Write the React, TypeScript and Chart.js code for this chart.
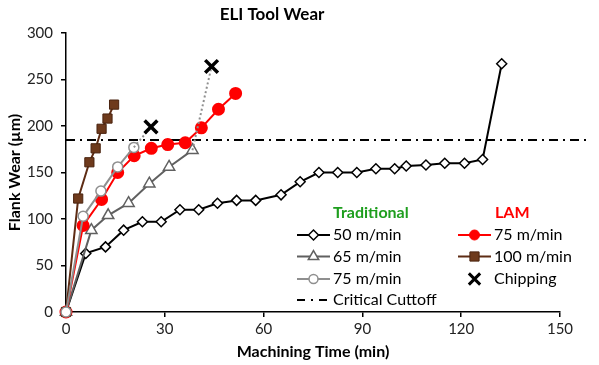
import React, { useEffect, useRef } from "react";
import { Chart, registerables } from "chart.js";
import { drawPoint } from "chart.js/helpers";

Chart.register(...registerables);

const FONT = "Lato, 'Open Sans', sans-serif";

// Traditional machining, 50 m/min
const trad50Time = [0, 6, 12, 17.5, 23.2, 28.9, 34.6, 40.3, 46, 51.8, 57.6, 65.3, 71.1, 76.8, 82.5, 88.3, 94.1, 99.8, 103.3, 109.3, 115, 121, 126.5, 132.3];
const trad50Wear = [0, 63, 70, 88, 97, 97, 110, 110, 117, 120, 120, 126, 140, 150, 150, 150, 154, 154, 157, 158, 160, 160, 164, 267];

// Traditional machining, 65 m/min
const trad65Time = [0, 7.7, 12.8, 19, 25.3, 31.3, 38.4];
const trad65Wear = [0, 88, 104, 117, 138, 156, 174];

// Traditional machining, 75 m/min
const trad75Time = [0, 5.2, 10.6, 15.7, 20.6];
const trad75Wear = [0, 103, 130, 156, 177];

// LAM, 75 m/min
const lam75Time = [0, 5.2, 10.8, 15.7, 20.7, 25.9, 30.9, 36.2, 41.1, 46.3, 51.5];
const lam75Wear = [0, 93, 121, 150, 168, 176, 180, 182, 198, 218, 235];

// LAM, 100 m/min
const lam100Time = [0, 3.7, 7.1, 9, 10.8, 12.6, 14.6];
const lam100Wear = [0, 122, 161, 176, 197, 208, 223];

// Chipping events (traditional 75 m/min and 65 m/min)
const chipTime = [25.8, 44.2];
const chipWear = [199, 264];

// Critical flank wear cutoff
const cutoffWear = 185;
const cutoffSpan = [0, 158];

const xTicks = { min: 0, max: 150, step: 30 };
const yTicks = { min: 0, max: 300, step: 50 };

const pts = (xs: number[], ys: number[]) => xs.map((x, i) => ({ x, y: ys[i] }));

const C_BLACK = "#000000";
const C_G65 = "#606060";
const C_G75 = "#8f8f8f";
const C_RED = "#ff0000";
const C_BROWN = "#5e2c14";
const C_BROWN_FILL = "#6e3a1c";

const legendRows = [
  { col: 0, row: 0, label: "50 m/min", line: C_BLACK, style: "rectRot", radius: 5, fill: "#fff", border: C_BLACK, bw: 1.5 },
  { col: 0, row: 1, label: "65 m/min", line: C_G65, style: "triangle", radius: 6, fill: "#fff", border: C_G65, bw: 1.5 },
  { col: 0, row: 2, label: "75 m/min", line: C_G75, style: "circle", radius: 4.5, fill: "#fff", border: C_G75, bw: 1.5 },
  { col: 0, row: 3, label: "Critical Cuttoff", line: C_BLACK, style: "dashdot", radius: 0, fill: "", border: "", bw: 0 },
  { col: 1, row: 0, label: "75 m/min", line: C_RED, style: "circle", radius: 5, fill: C_RED, border: C_RED, bw: 1 },
  { col: 1, row: 1, label: "100 m/min", line: C_BROWN, style: "rect", radius: 6.5, fill: C_BROWN_FILL, border: "#4a2410", bw: 1 },
  { col: 1, row: 2, label: "Chipping", line: "", style: "crossRot", radius: 8, fill: C_BLACK, border: C_BLACK, bw: 3 },
];

const titlePlugin = {
  id: "centerTitle",
  afterDraw(chart: any) {
    const ctx = chart.ctx;
    ctx.save();
    ctx.font = `bold 17px ${FONT}`;
    ctx.fillStyle = "#000";
    ctx.textAlign = "center";
    ctx.textBaseline = "middle";
    ctx.fillText("ELI Tool Wear", 272, 15);
    ctx.restore();
  },
};

const legendPlugin = {
  id: "groupedLegend",
  afterDraw(chart: any) {
    const ctx = chart.ctx;
    const colX = [297, 458];
    const rowY = [235, 256.5, 279, 300];
    const segW = 33;
    ctx.save();
    ctx.textBaseline = "middle";
    ctx.textAlign = "left";
    ctx.font = `bold 16px ${FONT}`;
    ctx.fillStyle = "#1e9e1e";
    ctx.fillText("Traditional", 333, 213);
    ctx.fillStyle = C_RED;
    ctx.fillText("LAM", 495, 213);

    for (const r of legendRows) {
      const x0 = colX[r.col];
      const y = rowY[r.row];
      const xm = x0 + segW / 2;
      if (r.style === "dashdot") {
        ctx.strokeStyle = C_BLACK;
        ctx.lineWidth = 2;
        ctx.setLineDash([8, 6, 2, 6]);
        ctx.beginPath();
        ctx.moveTo(x0, y);
        ctx.lineTo(x0 + segW, y);
        ctx.stroke();
        ctx.setLineDash([]);
      } else {
        if (r.line) {
          ctx.strokeStyle = r.line;
          ctx.lineWidth = 2;
          ctx.beginPath();
          ctx.moveTo(x0, y);
          ctx.lineTo(x0 + segW, y);
          ctx.stroke();
        }
        ctx.fillStyle = r.fill;
        ctx.strokeStyle = r.border;
        ctx.lineWidth = r.bw;
        drawPoint(ctx, { pointStyle: r.style as any, radius: r.radius, rotation: 0, borderWidth: r.bw }, xm, y);
      }
      ctx.fillStyle = "#000";
      ctx.font = `16px ${FONT}`;
      ctx.fillText(r.label, x0 + segW + 3, y);
    }
    ctx.restore();
  },
};

export default function App() {
  const canvasRef = useRef<HTMLCanvasElement | null>(null);

  useEffect(() => {
    if (!canvasRef.current) return;
    const chart = new Chart(canvasRef.current, {
      type: "line",
      data: {
        datasets: [
          {
            label: "Chipping",
            data: pts(chipTime, chipWear),
            showLine: false,
            pointStyle: "crossRot",
            pointRadius: 9,
            pointBorderWidth: 3.5,
            pointBorderColor: C_BLACK,
            borderColor: C_BLACK,
            clip: false as any,
            order: 1,
          },
          {
            label: "chip-75",
            data: [
              { x: trad75Time[trad75Time.length - 1], y: trad75Wear[trad75Wear.length - 1] },
              { x: chipTime[0], y: chipWear[0] },
            ],
            borderColor: C_G75,
            borderWidth: 2,
            borderDash: [2, 2.5],
            pointRadius: 0,
            order: 2,
          },
          {
            label: "chip-65",
            data: [
              { x: trad65Time[trad65Time.length - 1], y: trad65Wear[trad65Wear.length - 1] },
              { x: chipTime[1], y: chipWear[1] },
            ],
            borderColor: C_G75,
            borderWidth: 2,
            borderDash: [2, 2.5],
            pointRadius: 0,
            order: 2,
          },
          {
            label: "Traditional 75 m/min",
            data: pts(trad75Time, trad75Wear),
            borderColor: C_G75,
            borderWidth: 2,
            pointStyle: "circle",
            pointRadius: 5,
            pointBackgroundColor: "#fff",
            pointBorderColor: C_G75,
            pointBorderWidth: 1.5,
            clip: false as any,
            order: 3,
          },
          {
            label: "LAM 100 m/min",
            data: pts(lam100Time, lam100Wear),
            borderColor: C_BROWN,
            borderWidth: 2,
            pointStyle: "rect",
            pointRadius: 6.5,
            pointBackgroundColor: C_BROWN_FILL,
            pointBorderColor: "#4a2410",
            pointBorderWidth: 1,
            clip: false as any,
            order: 4,
          },
          {
            label: "LAM 75 m/min",
            data: pts(lam75Time, lam75Wear),
            borderColor: C_RED,
            borderWidth: 2,
            pointStyle: "circle",
            pointRadius: 5.5,
            pointBackgroundColor: C_RED,
            pointBorderColor: C_RED,
            clip: false as any,
            order: 5,
          },
          {
            label: "Traditional 65 m/min",
            data: pts(trad65Time, trad65Wear),
            borderColor: C_G65,
            borderWidth: 2,
            pointStyle: "triangle",
            pointRadius: 6.5,
            pointBackgroundColor: "#fff",
            pointBorderColor: C_G65,
            pointBorderWidth: 1.5,
            clip: false as any,
            order: 6,
          },
          {
            label: "Traditional 50 m/min",
            data: pts(trad50Time, trad50Wear),
            borderColor: C_BLACK,
            borderWidth: 2,
            pointStyle: "rectRot",
            pointRadius: 5,
            pointBackgroundColor: "#fff",
            pointBorderColor: C_BLACK,
            pointBorderWidth: 1.5,
            clip: false as any,
            order: 7,
          },
          {
            label: "Critical Cuttoff",
            data: cutoffSpan.map((x) => ({ x, y: cutoffWear })),
            borderColor: C_BLACK,
            borderWidth: 2,
            borderDash: [9, 5, 2, 5],
            pointRadius: 0,
            clip: false as any,
            order: 10,
          },
        ],
      },
      options: {
        animation: false,
        responsive: true,
        maintainAspectRatio: false,
        layout: { padding: { top: 33, right: 39, left: 0, bottom: 0 } },
        plugins: {
          legend: { display: false },
          title: { display: false },
          tooltip: { enabled: false },
        },
        elements: { line: { tension: 0 } },
        scales: {
          x: {
            type: "linear",
            min: xTicks.min,
            max: xTicks.max,
            afterFit: (s: any) => {
              s.height = 53;
            },
            ticks: {
              stepSize: xTicks.step,
              color: "#222",
              padding: 3,
              font: { family: FONT, size: 15 },
            },
            grid: {
              display: true,
              drawOnChartArea: false,
              drawTicks: true,
              tickLength: 5,
              color: "#000",
              lineWidth: 1.5,
            },
            border: { display: true, color: "#000", width: 1.5 },
            title: {
              display: true,
              text: "Machining Time (min)",
              color: "#000",
              font: { family: FONT, size: 16, weight: "bold" },
              padding: { top: 0, bottom: 4 },
            },
          },
          y: {
            type: "linear",
            min: yTicks.min,
            max: yTicks.max,
            afterFit: (s: any) => {
              s.width = 66;
            },
            ticks: {
              stepSize: yTicks.step,
              color: "#222",
              padding: 8,
              font: { family: FONT, size: 15 },
            },
            grid: {
              display: true,
              drawOnChartArea: false,
              drawTicks: true,
              tickLength: 5,
              color: "#000",
              lineWidth: 1.5,
            },
            border: { display: true, color: "#000", width: 1.5 },
            title: {
              display: true,
              text: "Flank Wear (µm)",
              color: "#000",
              font: { family: FONT, size: 16, weight: "bold" },
              padding: { top: 5, bottom: 0 },
            },
          },
        },
      },
      plugins: [titlePlugin, legendPlugin],
    });
    return () => chart.destroy();
  }, []);

  return (
    <div style={{ position: "fixed", left: 0, top: 0, width: 599, height: 365, background: "#fff" }}>
      <canvas ref={canvasRef} />
    </div>
  );
}
